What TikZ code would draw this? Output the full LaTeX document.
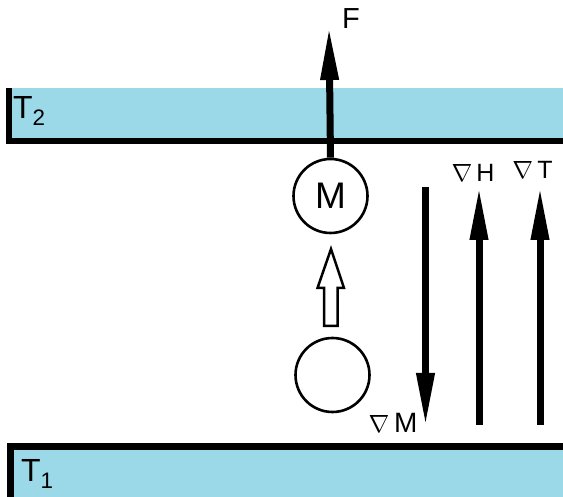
\documentclass[tikz,border=0pt]{standalone}
\usepackage{fontspec}
\setmainfont{Liberation Sans}
\usetikzlibrary{arrows.meta}
\definecolor{bathblue}{RGB}{155,217,232}
\newcommand{\nabsym}{$\nabla$}
\tikzset{
  wall/.style={line width=6.5pt},
  ball/.style={circle,draw,line width=2.6pt,minimum size=74pt,inner sep=0pt},
  bigarrow/.style={line width=7pt,-{Triangle[length=53pt,width=17pt]}},
  lbl/.style={inner sep=0pt,font=\fontsize{25}{25}\selectfont},
}
\begin{document}
\begin{tikzpicture}[x=1pt,y=-1pt]
\useasboundingbox (0,0) rectangle (563,497);
% top bath T2
\fill[bathblue] (9,88) rectangle (563,141);
\draw[wall] (9,88) -- (9,141) -- (563,141);
\node[inner sep=0pt,anchor=west,font=\fontsize{32}{32}\selectfont] (T2) at (13,111) {T\textsubscript{2}};
% bottom bath T1
\fill[bathblue] (10.5,446.5) rectangle (563,497);
\draw[line width=7pt] (10.5,497) -- (10.5,446.5) -- (563,446.5);
\node[inner sep=0pt,anchor=west,font=\fontsize{32}{32}\selectfont] (T1) at (21,474) {T\textsubscript{1}};
% particles
\node[ball,font=\fontsize{37}{37}\selectfont] (M) at (330.5,196) {M};
\node[ball] (N) at (332.5,375) {};
% force F
\coordinate (Ftip) at (329,27);
\draw[bigarrow] (M.north) -- (Ftip);
\node[lbl,font=\fontsize{29}{29}\selectfont] (F) at (351,19) {F};
% hollow arrow
\draw[line width=2.5pt,line join=miter] (331,249) -- (344,288) -- (337.5,288) -- (337.5,326) -- (324,326) -- (324,288) -- (317.5,288) -- cycle;
% gradients
\coordinate (gMa) at (425.5,187);
\coordinate (gMb) at (425.5,426);
\coordinate (gHa) at (479,425);
\coordinate (gHb) at (479,187);
\coordinate (gTa) at (540,425);
\coordinate (gTb) at (540,187);
\draw[bigarrow] (gMa) -- (gMb);
\draw[bigarrow] (gHa) -- (gHb);
\draw[bigarrow] (gTa) -- (gTb);
\node[lbl] (LH) at (473,172.5) {\nabsym\,H};
\node[lbl] (LT) at (532.5,170) {\nabsym\,T};
\node[lbl,font=\fontsize{28}{28}\selectfont] (LM) at (393,423) {\nabsym\,M};
\end{tikzpicture}
\end{document}
